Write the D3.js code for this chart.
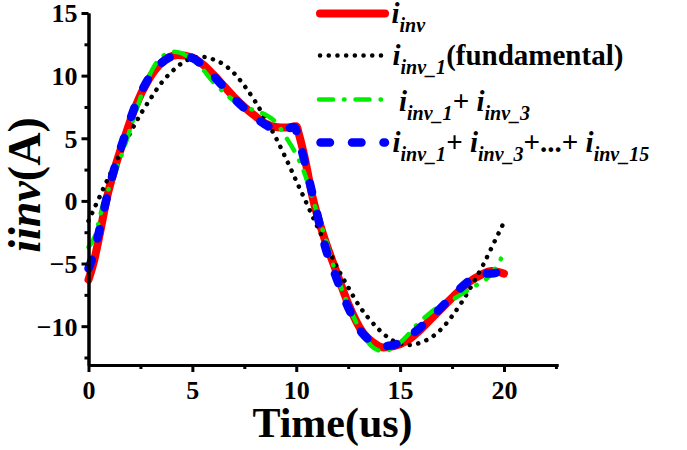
<!DOCTYPE html>
<html><head><meta charset="utf-8">
<script src="https://cdn.jsdelivr.net/npm/d3@7"></script>
<style>
html,body{margin:0;padding:0;background:#fff;}
svg text{font-family:"Liberation Serif","Times New Roman",serif;font-weight:bold;fill:#000;}
</style></head>
<body><svg id="c" width="687" height="450"></svg>
<script>
// ---- data ----
const xTicks = [0, 5, 10, 15, 20];
const yTicks = [-10, -5, 0, 5, 10, 15];
const xMinor = [2.5, 7.5, 12.5, 17.5, 22.5];
const yMinor = [-12.5, -7.5, -2.5, 2.5, 7.5, 12.5];

const tRed = [0,0.25,0.5,0.9,1.3,1.75,2.25,2.9,3.5,4.3,5.0,5.5,6.0,6.5,7.0,7.5,8.0,8.5,9.0,9.5,10.0,10.15,10.4,10.8,11.3,11.9,12.5,13.2,13.7,14.2,14.7,15.3,15.9,16.5,17.1,17.7,18.3,18.9,19.4,20.0];
const vRed = [-6.3,-4.9,-3.0,0.35,2.8,5.1,7.5,9.7,11.0,11.65,11.45,10.9,10.1,9.2,8.3,7.5,6.8,6.2,5.9,5.85,5.95,5.2,3.5,0.2,-2.7,-5.5,-8.2,-10.5,-11.3,-11.7,-11.6,-11.2,-10.4,-9.4,-8.4,-7.4,-6.5,-5.9,-5.6,-5.8];

const tFund = [0,0.5,1,1.5,2,2.5,3,3.5,4,4.5,5,5.5,6,6.5,7,7.5,8,8.5,9,9.5,10,10.5,11,11.5,12,12.5,13,13.5,14,14.5,15,15.5,16,16.5,17,17.5,18,18.5,19,19.5,20];
const vFund = [-1.6,0.2,2.0,3.7,5.4,6.9,8.2,9.4,10.3,11.0,11.4,11.5,11.3,10.9,10.2,9.2,8.0,6.6,5.1,3.4,1.6,-0.2,-2.0,-3.7,-5.4,-6.9,-8.3,-9.4,-10.3,-11.0,-11.4,-11.5,-11.3,-10.9,-10.2,-9.2,-8.0,-6.6,-5.1,-3.4,-1.7];

const tH3 = [0,0.3,0.7,1.2,1.6,2.1,2.65,3.35,4.1,4.9,5.4,6.0,6.5,7.0,7.5,8.0,8.5,9.0,9.5,10.0,10.4,10.8,11.4,11.8,12.3,12.8,13.3,13.7,14.2,14.7,15.2,15.8,16.4,17.0,17.6,18.2,18.7,19.3,19.7,20.0];
const vH3 = [-3.7,-2.85,-0.3,1.9,3.7,6.2,8.9,11.2,11.9,11.4,10.7,9.5,8.7,8.0,7.6,7.2,6.9,6.3,5.1,3.7,2.2,0.1,-3.0,-5.2,-7.5,-9.4,-10.9,-11.7,-12.0,-11.7,-11.0,-9.9,-9.0,-8.3,-7.8,-7.2,-6.7,-6.0,-5.1,-4.1];

const tH15 = [0,0.25,0.5,0.9,1.3,1.75,2.25,2.9,3.5,4.3,5.0,5.5,6.0,6.5,7.0,7.5,8.0,8.5,9.0,9.5,9.9,10.2,10.6,11.0,11.4,11.9,12.5,13.2,13.7,14.2,14.7,15.3,15.9,16.5,17.1,17.7,18.3,18.9,19.4,20.0];
const vH15 = [-5.4,-4.2,-2.5,0.4,2.9,5.2,7.6,9.8,11.0,11.6,11.4,10.8,10.0,9.1,8.2,7.4,6.7,6.1,5.75,5.75,5.9,4.4,1.8,-1.0,-3.7,-6.0,-8.5,-10.6,-11.3,-11.6,-11.5,-11.0,-10.2,-9.3,-8.3,-7.3,-6.4,-5.8,-5.8,-5.4];

const seriesNames = ["red","fund","h3","h15"];

// ---- drawing ----
const svg = d3.select("#c");
const x = d3.scaleLinear().domain([0, 22.6]).range([88.5, 558]);
const y = d3.scaleLinear().domain([-13.1, 15]).range([365, 13]);

const styles = {
  red:  {stroke:"#ff0000", width:8, dash:null},
  fund: {stroke:"#000000", width:4.5, dash:"0.1 8.6"},
  h3:   {stroke:"#00ee00", width:4.5, dash:"14 11 0.5 11"},
  h15:  {stroke:"#0000ff", width:8.5, dash:"9.5 22"}
};
const dataSets = {
  red: tRed.map((t,i)=>[t,vRed[i]]),
  fund: tFund.map((t,i)=>[t,vFund[i]]),
  h3: tH3.map((t,i)=>[t,vH3[i]]),
  h15: tH15.map((t,i)=>[t,vH15[i]])
};
const line = d3.line().x(d=>x(d[0])).y(d=>y(d[1])).curve(d3.curveMonotoneX);

seriesNames.forEach(k=>{
  const s = styles[k];
  svg.append("path").attr("d", line(dataSets[k]))
    .attr("fill","none").attr("stroke",s.stroke).attr("stroke-width",s.width)
    .attr("stroke-linecap","round").attr("stroke-linejoin","round")
    .attr("stroke-dasharray", s.dash);
});

// axes
const gx = svg.append("g").attr("transform","translate(0,365)")
  .call(d3.axisBottom(x).tickValues(xTicks).tickSize(7).tickSizeOuter(0).tickPadding(4).tickFormat(d3.format("d")));
const gxm = svg.append("g").attr("transform","translate(0,365)")
  .call(d3.axisBottom(x).tickValues(xMinor).tickSize(4).tickSizeOuter(0).tickFormat(""));
const gy = svg.append("g").attr("transform","translate(88.5,0)")
  .call(d3.axisLeft(y).tickValues(yTicks).tickSize(7).tickSizeOuter(0).tickPadding(5).tickFormat(d3.format("d")));
const gym = svg.append("g").attr("transform","translate(88.5,0)")
  .call(d3.axisLeft(y).tickValues(yMinor).tickSize(4).tickSizeOuter(0).tickFormat(""));
[gx,gxm,gy,gym].forEach(g=>{
  g.attr("font-family", null).attr("font-size", null);
  g.selectAll(".domain").attr("stroke","#000").attr("stroke-width",3);
  g.selectAll(".tick line").attr("stroke","#000").attr("stroke-width",3);
  g.selectAll("text")
    .attr("font-family","Liberation Serif").attr("font-weight","bold").attr("font-size","26px")
    .style("font-family","'Liberation Serif', serif").style("font-size","26px").style("font-weight","bold");
});
gx.selectAll(".tick text").attr("dy",null).attr("y",null).attr("transform","translate(0,34)");
gy.selectAll(".tick text").attr("dy","0.34em").attr("x",-11);

// axis titles
svg.append("text").attr("x",332.5).attr("y",436.5).attr("text-anchor","middle")
  .style("font-size","42px").text("Time(us)");
const yt = svg.append("text").attr("transform","translate(40,185) rotate(-90)")
  .attr("text-anchor","middle").style("font-size","46px");
yt.append("tspan").style("font-style","italic").text("iinv");
yt.append("tspan").text("(A)");

// legend
const legRows = [
  {k:"red", y:13.5, x1:320, x2:385},
  {k:"fund", y:55.5, x1:320, x2:381},
  {k:"h3", y:99.5, x1:319, x2:384},
  {k:"h15", y:142.5, x1:320.5, x2:385}
];
legRows.forEach(r=>{
  const s = styles[r.k];
  svg.append("line").attr("x1",r.x1).attr("x2",r.x2).attr("y1",r.y).attr("y2",r.y)
    .attr("stroke",s.stroke).attr("stroke-width",s.width).attr("stroke-linecap","round")
    .attr("stroke-dasharray",s.dash);
});
function legText(xp, yp, parts){
  const t = svg.append("text").attr("x",xp).attr("y",yp).style("font-size","29px");
  parts.forEach(p=>{
    const ts = t.append("tspan").text(p[0]);
    if(p[1]==="i") ts.style("font-style","italic");
    if(p[1]==="s") ts.style("font-style","italic").style("font-size","20px").attr("dy",8.5);
    if(p[1]==="n") ts.attr("dy",-8.5);
  });
}
legText(391.5, 23, [["i","i"],["inv","s"]]);
legText(392.5, 65, [["i","i"],["inv_1","s"],["(fundamental)","n"]]);
legText(399, 111, [["i","i"],["inv_1","s"],["+ ","n"],["i","i"],["inv_3","s"]]);
legText(392.5, 152, [["i","i"],["inv_1","s"],["+ ","n"],["i","i"],["inv_3","s"],["+...+ ","n"],["i","i"],["inv_15","s"]]);
</script></body></html>
